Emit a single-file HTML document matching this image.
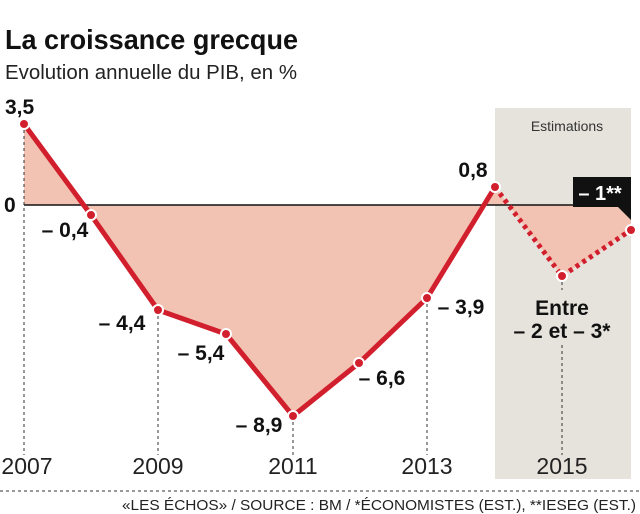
<!DOCTYPE html>
<html><head><meta charset="utf-8"><style>
body{margin:0;background:#fff;}
svg{display:block}
text{font-family:"Liberation Sans",sans-serif;}
</style></head><body>
<svg width="640" height="514" viewBox="0 0 640 514" xmlns="http://www.w3.org/2000/svg">
<rect width="640" height="514" fill="#fff"/>
<text x="5" y="49" font-weight="bold" font-size="28" fill="#111" textLength="293" lengthAdjust="spacingAndGlyphs">La croissance grecque</text>
<text x="5" y="79" font-size="20" fill="#222" textLength="292" lengthAdjust="spacingAndGlyphs">Evolution annuelle du PIB, en %</text>
<rect x="495" y="108" width="136" height="371" fill="#e6e3dc"/>
<text x="567" y="131" font-size="14" fill="#333" text-anchor="middle">Estimations</text>
<polygon fill="#f2c3b2" points="24,124 91,215 158,310 226,334 293,416 359,363 427,298 495,187 562,276 631,230 631,205 24,205"/>
<line x1="24" y1="205" x2="631" y2="205" stroke="#111" stroke-width="1.5"/>
<g stroke="#333" stroke-width="1" stroke-dasharray="3,3">
<line x1="24" y1="124" x2="24" y2="455"/>
<line x1="158" y1="310" x2="158" y2="455"/>
<line x1="293" y1="416" x2="293" y2="455"/>
<line x1="427" y1="298" x2="427" y2="455"/>
<line x1="562" y1="345" x2="562" y2="455"/>
<line x1="562" y1="276" x2="562" y2="290"/>
<line x1="0" y1="491" x2="640" y2="491"/>
</g>
<polyline fill="none" stroke="#d21f2d" stroke-width="5" stroke-linejoin="round" points="24,124 91,215 158,310 226,334 293,416 359,363 427,298 495,187"/>
<polyline fill="none" stroke="#d21f2d" stroke-width="5" stroke-dasharray="4,4" points="495,187 562,276 631,230"/>
<g fill="#d21f2d" stroke="#fff" stroke-width="2">
<circle cx="24" cy="124" r="5"/><circle cx="91" cy="215" r="5"/><circle cx="158" cy="310" r="5"/><circle cx="226" cy="334" r="5"/><circle cx="293" cy="416" r="5"/><circle cx="359" cy="363" r="5"/><circle cx="427" cy="298" r="5"/><circle cx="495" cy="187" r="5"/><circle cx="562" cy="276" r="5"/><circle cx="631" cy="230" r="5"/>
</g>
<polygon points="573,177 631,177 631,220 618,207 573,207" fill="#111"/>
<text x="600" y="200" font-size="20" font-weight="bold" fill="#fff" text-anchor="middle">– 1**</text>
<g font-size="21" font-weight="bold" fill="#111">
<text x="5" y="114">3,5</text>
<text x="4" y="212">0</text>
<text x="65" y="237" text-anchor="middle">– 0,4</text>
<text x="122" y="330" text-anchor="middle">– 4,4</text>
<text x="201" y="360" text-anchor="middle">– 5,4</text>
<text x="259" y="432" text-anchor="middle">– 8,9</text>
<text x="382" y="385" text-anchor="middle">– 6,6</text>
<text x="461" y="314" text-anchor="middle">– 3,9</text>
<text x="473" y="177" text-anchor="middle">0,8</text>
<text x="562" y="315" text-anchor="middle">Entre</text>
<text x="562" y="338" text-anchor="middle">– 2 et – 3*</text>
</g>
<g font-size="23" fill="#222" text-anchor="middle">
<text x="27" y="474">2007</text>
<text x="158" y="474">2009</text>
<text x="293" y="474">2011</text>
<text x="427" y="474">2013</text>
<text x="562" y="474">2015</text>
</g>
<text x="122" y="510" font-size="15" fill="#222" textLength="514" lengthAdjust="spacingAndGlyphs">«LES ÉCHOS» / SOURCE : BM / *ÉCONOMISTES (EST.), **IESEG (EST.)</text>
</svg>
</body></html>
